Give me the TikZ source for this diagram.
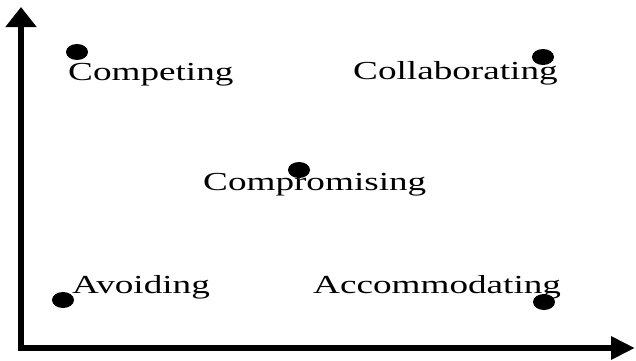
\documentclass[tikz,border=0pt]{standalone}
\usepackage{fontspec}
\setmainfont{Liberation Serif}[FakeStretch=1.43]
\usetikzlibrary{arrows.meta,shapes.geometric}
\begin{document}
\begin{tikzpicture}[x=1pt,y=-1pt,
  dot/.style={ellipse,fill=black,minimum width=22pt,minimum height=16pt,inner sep=0pt},
  lbl/.style={anchor=base west,inner sep=0pt,font=\fontsize{26}{26}\selectfont},
  axis/.style={line width=6pt,line join=miter,
    arrows={Triangle[length=20pt,width=30pt]-Triangle[length=24pt,width=22pt]}}]
\useasboundingbox (0,0) rectangle (636,360);
\coordinate (Ytop) at (21,7);
\coordinate (O) at (21,348);
\coordinate (Xend) at (635,348);
\draw[axis] (Ytop) -- (O) -- (Xend);
\node[dot] (d1) at (77,52) {};
\node[dot] (d2) at (543,57) {};
\node[dot] (d3) at (299,170) {};
\node[dot] (d4) at (63,300) {};
\node[dot] (d5) at (544,302) {};
\node[lbl] (t1) at (68,80) {Competing};
\node[lbl] (t2) at (353,79) {Collaborating};
\node[lbl] (t3) at (203,190) {Compromising};
\node[lbl] (t4) at (72,293) {Avoiding};
\node[lbl] (t5) at (313,293) {Accommodating};
\end{tikzpicture}
\end{document}
